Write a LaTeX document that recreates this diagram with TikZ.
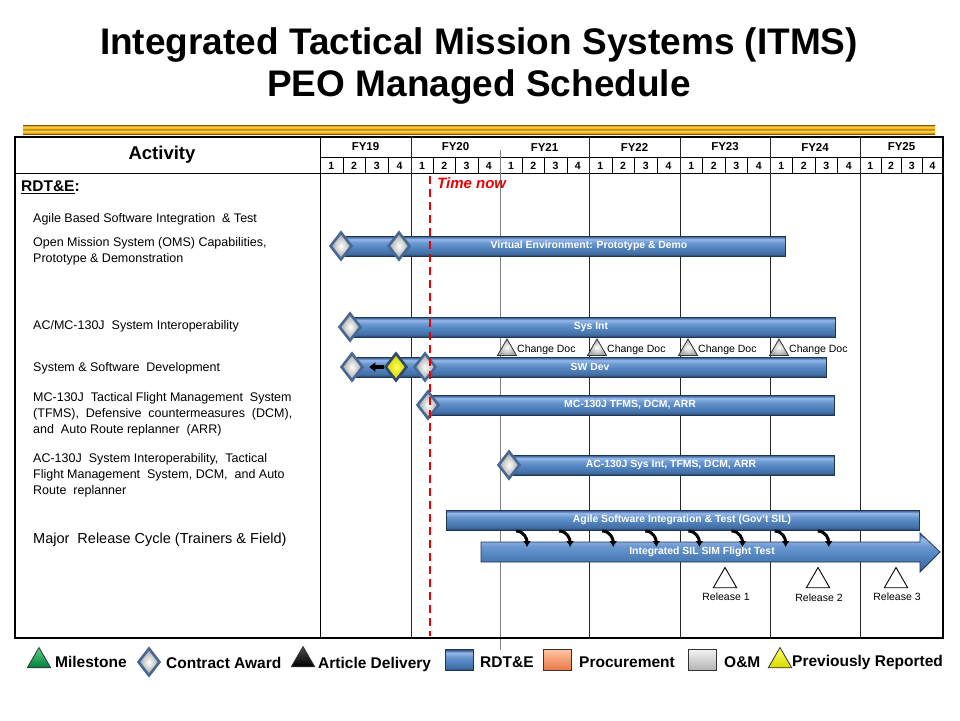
\documentclass[tikz,border=0pt]{standalone}
\usepackage{fontspec}
\setmainfont{Liberation Sans}
\usetikzlibrary{shapes.geometric,arrows.meta}

\definecolor{barlight}{RGB}{150,185,235}
\definecolor{barmid}{RGB}{79,129,189}
\definecolor{bardark}{RGB}{38,66,110}
\definecolor{awardedge}{RGB}{72,104,148}
\definecolor{goldmid}{RGB}{250,185,10}
\definecolor{golddark}{RGB}{140,85,0}
\definecolor{timered}{RGB}{235,0,0}

\pgfdeclareverticalshading{barshade}{100bp}{color(0bp)=(bardark); color(25bp)=(bardark); color(31bp)=(barmid!85!black); color(44bp)=(barmid); color(58bp)=(barmid!60!barlight); color(67bp)=(barlight); color(73bp)=(barmid!80!black); color(75bp)=(bardark); color(100bp)=(bardark)}
\pgfdeclareverticalshading{goldshade}{100bp}{color(0bp)=(golddark); color(25bp)=(golddark); color(33bp)=(goldmid); color(44bp)=(goldmid!60!white); color(50bp)=(golddark!80!goldmid); color(56bp)=(goldmid); color(67bp)=(goldmid!70!white); color(75bp)=(golddark); color(100bp)=(golddark)}

\tikzset{
  title/.style={inner sep=0pt, font=\fontsize{37}{42}\selectfont\bfseries},
  hdr/.style={inner sep=0pt, font=\fontsize{18.5}{20}\selectfont\bfseries},
  yrtext/.style={inner sep=0pt, font=\fontsize{11.5}{13}\selectfont\bfseries},
  qtrtext/.style={inner sep=0pt, font=\fontsize{10.5}{12}\selectfont\bfseries},
  acttext/.style={anchor=west, align=left, inner sep=0pt, font=\fontsize{12.5}{16}\selectfont},
  bar/.style={draw=bardark!80!black, line width=0.8pt, shading=barshade},
  bartext/.style={text=white, inner sep=0pt, font=\fontsize{10.4}{12}\selectfont\bfseries},
  award/.style={diamond, minimum width=22pt, minimum height=28pt, inner sep=0pt, draw=awardedge, line width=2.6pt, inner color=white, outer color=gray!75},
  prevrep/.style={award, draw=awardedge!70!black, inner color=yellow!70, outer color=yellow!80!black},
  chgtri/.style={regular polygon, regular polygon sides=3, minimum size=22pt, inner sep=0pt, draw=black!80, line width=0.8pt, inner color=white, outer color=gray!70},
  reltri/.style={regular polygon, regular polygon sides=3, minimum size=27pt, inner sep=0pt, draw=black, line width=0.9pt, fill=white},
  smalltext/.style={inner sep=0pt, font=\fontsize{10.5}{12}\selectfont},
  feed/.style={line width=3pt, -{Latex[length=6pt,width=8pt]}},
  legtext/.style={anchor=west, inner sep=0pt, font=\fontsize{15.5}{17}\selectfont\bfseries},
  legtri/.style={regular polygon, regular polygon sides=3, minimum size=27pt, inner sep=0pt, draw=black!80, line width=0.8pt},
  legbox/.style={minimum width=28pt, minimum height=21pt, inner sep=0pt}
}

\begin{document}
\begin{tikzpicture}[x=1pt, y=-1pt]
    \fill[white] (0,0) rectangle (960,720);
    \useasboundingbox (0,0) rectangle (960,720);

    % title
    \node[title, anchor=base] (t1) at (479,54) {Integrated Tactical Mission Systems (ITMS)};
    \node[title, anchor=base] (t2) at (479,96) {PEO Managed Schedule};
    \shade[shading=goldshade] (23,125) rectangle (935,134);

    % grid
    \draw (15,173) -- (943,173);
    \draw (320,137) -- (320,638);
    \draw (320,157) -- (943,157);
    \foreach \yr/\a/\b in {19/320/411, 20/411/500, 21/500/589, 22/589/680, 23/680/770, 24/770/860, 25/860/943} {
        \node[yrtext] (fy\yr) at ({(\a+\b)/2},147) {FY\yr};
        \foreach \q in {1,...,4}
            \node[qtrtext] (q\yr\q) at ({\a+(\q-0.5)*(\b-\a)/4},165.5) {\q};
        \foreach \q in {1,2,3}
            \draw ({\a+\q*(\b-\a)/4},157) -- ({\a+\q*(\b-\a)/4},173);
    }
    \foreach \x in {411,589,680,770,860}
        \draw[black!85] (\x,137) -- (\x,638);
    \draw[gray] (500,150) -- (500,650);
    \draw[line width=2pt] (15,137) rectangle (943,638);

    % activities
    \node[hdr] (act) at (162,155) {Activity};
    \node[anchor=west, inner sep=0pt, font=\fontsize{15.5}{17}\selectfont\bfseries] (rdte) at (21,187) {\underline{RDT\&E}:};
    \node[acttext] (a1) at (33,219) {Agile Based Software Integration \ \& Test};
    \node[acttext] (a2) at (33,251) {Open Mission System (OMS) Capabilities,\\Prototype \& Demonstration};
    \node[acttext] (a3) at (33,326) {AC/MC-130J \ System Interoperability};
    \node[acttext] (a4) at (33,368) {System \& Software \ Development};
    \node[acttext] (a5) at (33,414) {MC-130J \ Tactical Flight Management \ System\\(TFMS), \ Defensive \ countermeasures \ (DCM),\\and \ Auto Route replanner \ (ARR)};
    \node[acttext] (a6) at (33,475) {AC-130J \ System Interoperability, \ Tactical\\Flight Management \ System, DCM, \ and Auto\\Route \ replanner};
    \node[acttext, font=\fontsize{14.5}{16}\selectfont] (a7) at (33,540) {Major \ Release Cycle (Trainers \& Field)};

    % bars
    \foreach \n/\a/\b/\y/\tx/\lbl in {ve/340/785/246/589/{Virtual Environment: Prototype \& Demo}, si/349/835/327/591/{Sys Int}, sw/351/826/367/590/{SW Dev}, mc/428/834/405/630/{MC-130J TFMS, DCM, ARR}, ac/508/834/465/671/{AC-130J Sys Int, TFMS, DCM, ARR}, ag/446/919/520/682/{Agile Software Integration \& Test (Gov't SIL)}} {
        \shade[bar] (\a,\y-10) rectangle (\b,\y+10);
        \node[bartext] (\n) at (\tx,\y) {\lbl};
    }
    \shade[bar] (481,542) -- (920,542) -- (920,533) -- (940,552) -- (920,572) -- (920,562) -- (481,562) -- cycle;
    \node[bartext] (is) at (702,552) {Integrated SIL SIM Flight Test};

    % contract awards
    \foreach \n/\x/\y in {ve1/341/246, ve2/399/246, si1/350/327, sw1/352/367, sw2/425/367, mc1/428/405, ac1/509/465}
        \node[award] (\n) at (\x,\y) {};
    \node[prevrep] (ya) at (396,367) {};
    \draw[line width=3.5pt, -{Triangle[length=6pt,width=9pt]}, shorten >=5pt] (ya.west) -- (sw1.east);

    % change docs
    \foreach \i/\x in {1/507, 2/597, 3/688, 4/779} {
        \node[chgtri] (cd\i) at (\x,350) {};
        \node[smalltext, anchor=west] (cdt\i) at (\x+10,350) {Change Doc};
    }

    % feeds into flight test
    \foreach \i in {1,...,8} {
        \coordinate (fa\i) at ({516+43.1*(\i-1)},531);
        \coordinate (fb\i) at ({527+43.1*(\i-1)},547);
        \draw[feed] (fa\i) .. controls +(8,0) and +(0,-8) .. (fb\i);
    }

    % releases
    \foreach \i/\x/\y in {1/725/597, 2/818/598, 3/896/597} {
        \node[reltri] (rel\i) at (\x,581) {};
        \node[smalltext] (relt\i) at (\x+1,\y) {Release \i};
    }

    % time now
    \draw[timered, line width=2.4pt, dash pattern=on 8pt off 5pt] (430,176) -- (430,636);
    \node[anchor=west, inner sep=0pt, text=timered, font=\fontsize{15}{17}\selectfont\bfseries\itshape] (tnow) at (437,183) {Time now};

    % legend
    \node[legtri, top color={rgb,255:red,90;green,210;blue,130}, bottom color={rgb,255:red,0;green,125;blue,60}] (lgm) at (39,661) {};
    \node[legtext] (lgmt) at (55,662) {Milestone};
    \node[award] (lga) at (149,662) {};
    \node[legtext] (lgat) at (166,663) {Contract Award};
    \node[legtri, top color=black!70, bottom color=black] (lgd) at (303,660) {};
    \node[legtext] (lgdt) at (318,664) {Article Delivery};
    \node[legbox, bar] (lgr) at (459,660) {};
    \node[legtext] (lgrt) at (480,662) {RDT\&E};
    \node[legbox, draw=black!80, line width=0.8pt, top color={rgb,255:red,255;green,195;blue,160}, bottom color={rgb,255:red,235;green,120;blue,70}] (lgp) at (557,660) {};
    \node[legtext] (lgpt) at (579,662) {Procurement};
    \node[legbox, draw=black!80, line width=0.8pt, top color=gray!10, bottom color=gray!60] (lgo) at (702,660) {};
    \node[legtext] (lgot) at (724,662) {O\&M};
    \node[legtri, top color=yellow!60, bottom color=yellow!85!black] (lgy) at (780,661) {};
    \node[legtext] (lgyt) at (792,662) {Previously Reported};
\end{tikzpicture}
\end{document}
